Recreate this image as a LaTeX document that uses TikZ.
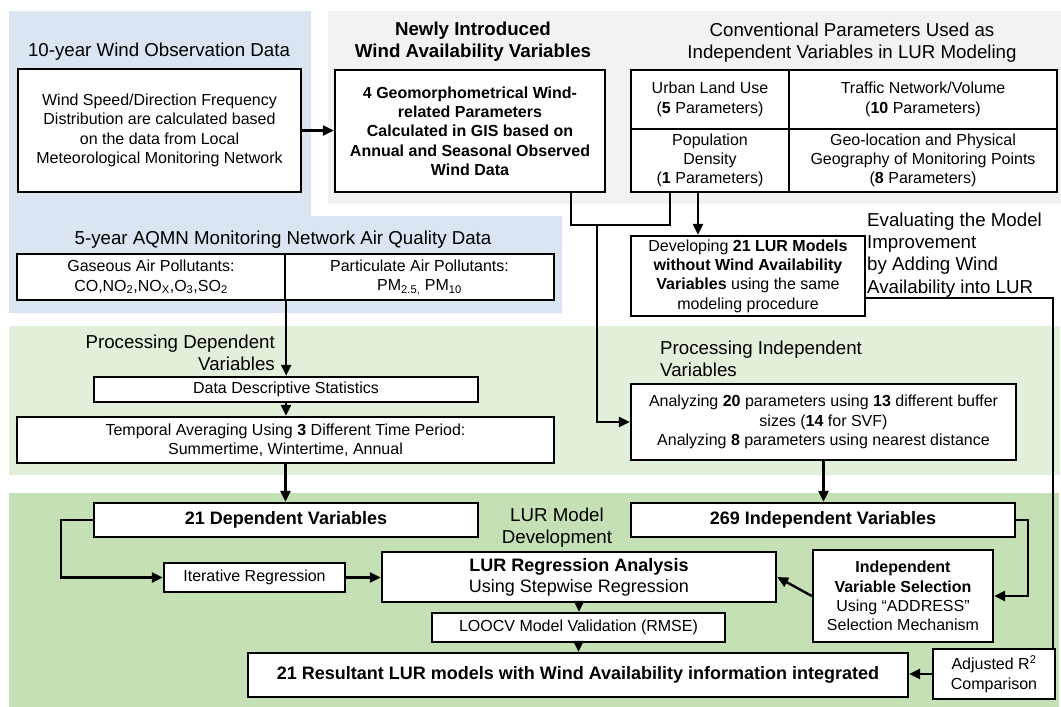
\documentclass[tikz,border=0pt]{standalone}
\usepackage{fontspec}
\setmainfont{Liberation Sans}
\usetikzlibrary{arrows.meta}
\definecolor{bgblue}{RGB}{219,229,241}
\definecolor{bggray}{RGB}{242,242,242}
\definecolor{bglgreen}{RGB}{226,239,218}
\definecolor{bgdgreen}{RGB}{197,224,180}
\newcommand\fsbox{\fontsize{16}{19.3}\selectfont}
\newcommand\fstitle{\fontsize{18.7}{22.2}\selectfont}
\newcommand\fsbig{\fontsize{18}{21}\selectfont}
\begin{document}
\begin{tikzpicture}[x=1pt,y=-1pt,
  box/.style={draw=black, fill=white, line width=2.4pt, inner sep=0pt, align=center, font=\fsbox},
  lbl/.style={inner sep=0pt, align=center, font=\fstitle},
  conn/.style={line width=2.4pt},
  arr/.style={conn, -{Triangle[length=11pt,width=10pt]}}]
\useasboundingbox (0,0) rectangle (1061,707);
% backgrounds
\fill[bgblue] (9,11) -- (311,11) -- (311,216) -- (562,216) -- (562,313) -- (9,313) -- cycle;
\fill[bggray] (328,11) rectangle (1061,204);
\fill[bglgreen] (9,326) rectangle (1060,475);
\fill[bgdgreen] (9,493) rectangle (1059,707);
% top row
\node[lbl] (t1) at (159,52) {10-year Wind Observation Data};
\node[box, minimum width=283, minimum height=123] (windbox) at (159.5,130.5) {Wind Speed/Direction Frequency\\Distribution are calculated based\\on the data from Local\\Meteorological Monitoring Network};
\node[lbl, font=\fstitle\bfseries] (t2) at (473,41.5) {Newly Introduced\\Wind Availability Variables};
\node[box, font=\fsbox\bfseries, minimum width=270, minimum height=122] (windvar) at (470,131) {4 Geomorphometrical Wind-\\related Parameters\\Calculated in GIS based on\\Annual and Seasonal Observed\\Wind Data};
\node[lbl] (t3) at (852,42.5) {Conventional Parameters Used as\\Independent Variables in LUR Modeling};
\node[box, minimum width=158, minimum height=59] (c11) at (710,99.5) {Urban Land Use\\(\textbf{5} Parameters)};
\node[box, minimum width=268, minimum height=59] (c12) at (923,99.5) {Traffic Network/Volume\\(\textbf{10} Parameters)};
\node[box, minimum width=158, minimum height=63] (c21) at (710,160.5) {Population\\Density\\(\textbf{1} Parameters)};
\node[box, minimum width=268, minimum height=63] (c22) at (923,160.5) {Geo-location and Physical\\Geography of Monitoring Points\\(\textbf{8} Parameters)};
% air quality
\node[lbl] (t4) at (283,240) {5-year AQMN Monitoring Network Air Quality Data};
\node[box, minimum width=268, minimum height=46] (gas) at (151,277) {Gaseous Air Pollutants:\\CO,NO\textsubscript{2},NO\textsubscript{X},O\textsubscript{3},SO\textsubscript{2}};
\node[box, minimum width=269, minimum height=46] (part) at (419.5,277) {Particulate Air Pollutants:\\PM\textsubscript{2.5,} PM\textsubscript{10}};
% processing dependent
\node[lbl, anchor=east, align=right] (t5) at (275,352.5) {Processing Dependent\\Variables};
\node[box, minimum width=384, minimum height=25] (desc) at (286,389.5) {Data Descriptive Statistics};
\node[box, minimum width=537, minimum height=46] (temporal) at (285.5,440) {Temporal Averaging Using \textbf{3} Different Time Period:\\Summertime, Wintertime, Annual};
% developing / independent
\node[box, minimum width=234, minimum height=80] (develop) at (748,276) {Developing \textbf{21 LUR Models}\\\textbf{without Wind Availability}\\\textbf{Variables} using the same\\modeling procedure};
\node[lbl, anchor=west, align=left] (t7) at (867,255) {Evaluating the Model\\Improvement\\by Adding Wind\\Availability into LUR};
\node[lbl, anchor=west, align=left] (t6) at (660,358.5) {Processing Independent\\Variables};
\node[box, minimum width=385, minimum height=76] (analyze) at (823.5,422) {Analyzing \textbf{20} parameters using \textbf{13} different buffer\\sizes (\textbf{14} for SVF)\\Analyzing \textbf{8} parameters using nearest distance};
% LUR development
\node[box, font=\fsbig\bfseries, minimum width=384, minimum height=34] (dep) at (286,520) {21 Dependent Variables};
\node[box, font=\fsbig\bfseries, minimum width=384, minimum height=34] (indep) at (823,520) {269 Independent Variables};
\node[lbl] (t8) at (557,527.5) {LUR Model\\Development};
\node[box, minimum width=181, minimum height=29] (iter) at (254.5,577.5) {Iterative Regression};
\node[box, font=\fsbig, minimum width=394, minimum height=50] (lurreg) at (579,577) {\textbf{LUR Regression Analysis}\\Using Stepwise Regression};
\node[box, minimum width=180, minimum height=92] (select) at (903,596) {\textbf{Independent}\\\textbf{Variable Selection}\\Using “ADDRESS”\\Selection Mechanism};
\node[box, minimum width=293, minimum height=29] (loocv) at (578.5,627.5) {LOOCV Model Validation (RMSE)};
\node[box, font=\fsbig\bfseries, minimum width=660, minimum height=44] (result) at (578,675) {21 Resultant LUR models with Wind Availability information integrated};
\node[box, minimum width=122, minimum height=50] (adj) at (994,674) {Adjusted R\textsuperscript{2}\\Comparison};
% connectors
\draw[arr] (windbox.east) -- (windbox.east -| windvar.west);
\coordinate (m1) at (571,225);
\coordinate (m2) at (670,225);
\coordinate (m3) at (597,225);
\draw[conn] (m1 |- windvar.south) -- (m1) -- (m2) -- (m2 |- c21.south);
\draw[arr] (m3) |- (analyze.west);
\coordinate (m4) at (698,200);
\draw[arr] (m4 |- c21.south) -- (m4 |- develop.north);
\coordinate (m5) at (1053,298);
\draw[conn] (develop.east |- m5) -- (m5) -- (m5 |- adj.north);
\draw[arr] (adj.west) -- (adj.west -| result.east);
\draw[arr] (gas.south east) -- (gas.south east |- desc.north);
\draw[arr] (desc.south) -- (desc.south |- temporal.north);
\draw[arr] (temporal.south) -- (temporal.south |- dep.north);
\draw[arr] (analyze.south) -- (analyze.south |- indep.north);
\coordinate (m6) at (61,550);
\draw[arr] (dep.west) -- (dep.west -| m6) |- (iter.west);
\draw[arr] (iter.east) -- (iter.east -| lurreg.west);
\coordinate (m7) at (1028,550);
\draw[arr] (indep.east) -- (indep.east -| m7) |- (select.east);
\draw[arr] (select.west) -- (lurreg.east);
\draw[arr] (lurreg.south) -- (lurreg.south |- loocv.north);
\draw[arr] (loocv.south) -- (loocv.south |- result.north);
\end{tikzpicture}
\end{document}
